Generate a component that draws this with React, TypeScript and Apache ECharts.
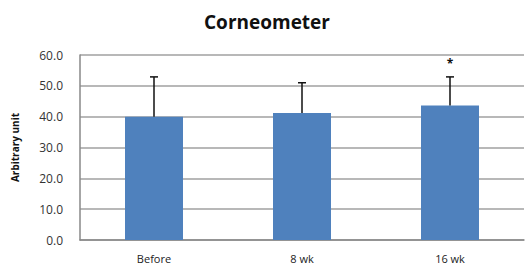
import React, { useEffect, useRef } from "react";
import * as echarts from "echarts";

const categories = ["Before", "8 wk", "16 wk"];
const means = [40.0, 41.2, 43.6];
const errors = [12.9, 9.8, 9.3];
const significant = [false, false, true];
const yTicks = [0, 10, 20, 30, 40, 50, 60];

export default function App() {
  const ref = useRef<HTMLDivElement>(null);
  useEffect(() => {
    const chart = echarts.init(ref.current!, null, { renderer: "svg" });
    chart.setOption({
      animation: false,
      title: {
        text: "Corneometer",
        left: 262,
        textAlign: "center",
        top: 7,
        textStyle: { fontFamily: "Open Sans", fontSize: 19, fontWeight: "bold", color: "#111" },
      },
      grid: { left: 80, right: 7, top: 55, bottom: 27 },
      xAxis: {
        type: "category",
        data: categories,
        axisTick: { show: false },
        axisLine: { lineStyle: { color: "#888", width: 1.5 } },
        axisLabel: { margin: 13, fontFamily: "Open Sans", fontSize: 11, color: "#222" },
      },
      yAxis: {
        type: "value",
        min: yTicks[0],
        max: yTicks[yTicks.length - 1],
        interval: 10,
        name: "Arbitrary unit",
        nameLocation: "middle",
        nameGap: 60,
        nameTextStyle: { fontFamily: "Open Sans", fontSize: 10, fontWeight: "bold", color: "#111" },
        axisLine: { show: true, lineStyle: { color: "#888", width: 1.5 } },
        axisTick: { show: false },
        splitLine: { lineStyle: { color: "#a0a0a0", width: 1.5 } },
        axisLabel: {
          margin: 17,
          fontFamily: "Open Sans",
          fontSize: 12,
          color: "#333",
          formatter: (v: number) => v.toFixed(1),
        },
      },
      series: [
        {
          type: "bar",
          data: means,
          barWidth: 58,
          itemStyle: { color: "#4f81bd" },
        },
        {
          type: "custom",
          data: means.map((m, i) => [i, m, errors[i], significant[i] ? 1 : 0]),
          z: 10,
          renderItem: (params: any, api: any) => {
            const i = api.value(0);
            const m = api.value(1);
            const e = api.value(2);
            const sig = api.value(3);
            const p0 = api.coord([i, m]);
            const p1 = api.coord([i, m + e]);
            const children: any[] = [
              { type: "line", shape: { x1: p0[0], y1: p0[1], x2: p1[0], y2: p1[1] }, style: { stroke: "#111", lineWidth: 1.5 } },
              { type: "line", shape: { x1: p1[0] - 4, y1: p1[1], x2: p1[0] + 4, y2: p1[1] }, style: { stroke: "#111", lineWidth: 1.5 } },
            ];
            if (sig) {
              children.push({
                type: "text",
                x: p1[0],
                y: p1[1] - 13,
                style: { text: "*", fontSize: 12, fontWeight: "bold", fill: "#111", align: "center", verticalAlign: "middle", fontFamily: "Open Sans" },
              });
            }
            return { type: "group", children };
          },
        },
      ],
    });
    return () => chart.dispose();
  }, []);
  return <div ref={ref} style={{ width: 531, height: 267, position: "absolute", left: 0, top: 0 }} />;
}
